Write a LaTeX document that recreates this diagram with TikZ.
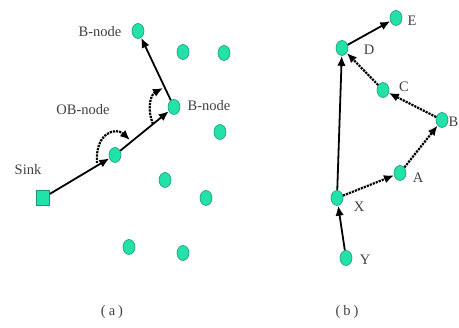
\documentclass[tikz,border=0pt]{standalone}
\usepackage{fontspec}
\setmainfont{Liberation Serif}
\usetikzlibrary{shapes.geometric,arrows.meta}
\definecolor{nfill}{RGB}{34,226,170}
\definecolor{nline}{RGB}{25,150,120}
\begin{document}
\begin{tikzpicture}[x=1pt,y=-1pt,
  sn/.style={ellipse,draw=nline,line width=0.6pt,fill=nfill,minimum width=12pt,minimum height=15pt,inner sep=0pt},
  sinkbox/.style={rectangle,draw=nline,line width=0.6pt,fill=nfill,minimum width=13pt,minimum height=15pt,inner sep=0pt},
  lbl/.style={font=\fontsize{14.5}{16}\selectfont,text=black!75,inner sep=0pt},
  solidarr/.style={line width=1.8pt,-{Latex[length=10pt,width=8.5pt]}},
  dotarr/.style={line width=2.2pt,densely dotted,-{Latex[length=10pt,width=8.5pt]}}]
\useasboundingbox (0,0) rectangle (459,328);
% panel (a)
\node[sinkbox] (sink) at (43,198) {};
\node[sn] (n1) at (115,155) {};
\node[sn] (bm) at (174,107) {};
\node[sn] (bt) at (138,31) {};
\node[sn] (o1) at (183,52) {};
\node[sn] (o2) at (224,53) {};
\node[sn] (o3) at (220,132) {};
\node[sn] (o4) at (165,180) {};
\node[sn] (o5) at (206,198) {};
\node[sn] (o6) at (129,247) {};
\node[sn] (o7) at (183,253) {};
\node[lbl] (lbt) at (100,32) {B-node};
\node[lbl] (lbm) at (209,106) {B-node};
\node[lbl] (lob) at (83,110) {OB-node};
\node[lbl] (lsink) at (28,170) {Sink};
\node[lbl] (la) at (112,312) {(\hspace{3pt}a\hspace{3pt})};
\draw[solidarr] (sink) -- (n1);
\draw[solidarr] (n1) -- (bm);
\draw[solidarr] (bm) -- (bt);
\coordinate (d1s) at (97,163);
\coordinate (d1e) at (130,140);
\coordinate (d2s) at (153,124);
\coordinate (d2e) at (163,88);
\draw[dotarr] (d1s) .. controls (95,132) and (116,127) .. (d1e);
\draw[dotarr] (d2s) .. controls (147,110) and (150,95) .. (d2e);
% panel (b)
\node[sn] (E) at (396,18) {};
\node[sn] (D) at (342,48) {};
\node[sn] (C) at (383,90) {};
\node[sn] (B) at (442,120) {};
\node[sn] (A) at (400,173) {};
\node[sn] (X) at (337,198) {};
\node[sn] (Y) at (346,258) {};
\node[lbl] (lE) at (412,21) {E};
\node[lbl] (lD) at (369,50) {D};
\node[lbl] (lC) at (404,87) {C};
\node[lbl] (lB) at (453.5,122) {B};
\node[lbl] (lA) at (418,178) {A};
\node[lbl] (lX) at (359,207) {X};
\node[lbl] (lY) at (365,260) {Y};
\node[lbl] (lb) at (347,312) {(\hspace{3pt}b\hspace{3pt})};
\draw[solidarr] (Y) -- (X);
\draw[solidarr] (X) -- (D);
\draw[solidarr] (D) -- (E);
\draw[dotarr] (X) -- (A);
\draw[dotarr] (A) -- (B);
\draw[dotarr] (B) -- (C);
\draw[dotarr] (C) -- (D);
\end{tikzpicture}
\end{document}
